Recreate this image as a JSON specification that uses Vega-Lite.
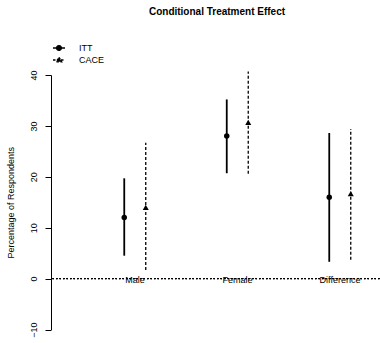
{
  "$schema": "https://vega.github.io/schema/vega-lite/v6.json",
  "autosize": {"type": "none"},
  "padding": {"left": 51, "top": 75, "right": 0, "bottom": 13.5},
  "width": 332,
  "height": 254.5,
  "background": "white",
  "config": {
    "view": {"stroke": null},
    "font": "Liberation Sans",
    "axis": {"grid": false}
  },
  "title": {
    "text": "Conditional Treatment Effect",
    "fontSize": 10,
    "fontWeight": "bold",
    "font": "Liberation Sans",
    "color": "black",
    "frame": "group",
    "anchor": "middle",
    "offset": 24
  },
  "data": {
    "values": [
      {"group": "Male", "type": "ITT", "est": 12.0, "lo": 4.5, "hi": 19.7},
      {"group": "Male", "type": "CACE", "est": 14.0, "lo": 1.7, "hi": 26.7},
      {"group": "Female", "type": "ITT", "est": 28.0, "lo": 20.7, "hi": 35.2},
      {"group": "Female", "type": "CACE", "est": 30.7, "lo": 20.6, "hi": 40.7},
      {"group": "Difference", "type": "ITT", "est": 16.0, "lo": 3.3, "hi": 28.6},
      {"group": "Difference", "type": "CACE", "est": 16.7, "lo": 3.7, "hi": 29.4}
    ]
  },
  "encoding": {
    "x": {
      "field": "group",
      "type": "nominal",
      "axis": null,
      "scale": {"domain": ["Male", "Female", "Difference"], "paddingInner": 0.161, "paddingOuter": 0.2, "align": 1}
    }
  },
  "layer": [
    {
      "mark": {"type": "rule", "color": "black", "strokeWidth": 1, "strokeDash": [1.5, 2]},
      "encoding": {
        "x": null,
        "y": {
          "datum": 0,
          "type": "quantitative",
          "scale": {"domain": [-10, 40], "nice": false, "zero": false},
          "axis": {
            "values": [-10, 0, 10, 20, 30, 40],
            "title": "Percentage of Respondents",
            "titleFont": "Liberation Sans",
            "titleFontSize": 9,
            "titleFontWeight": "normal",
            "titleColor": "black",
            "titlePadding": 14,
            "labelFont": "Liberation Sans",
            "labelFontSize": 9,
            "labelColor": "black",
            "labelAngle": 270,
            "labelAlign": "center",
            "labelBaseline": "bottom",
            "labelPadding": 7,
            "labelFlush": false,
            "labelOverlap": false,
            "labelBound": false,
            "tickSize": 6,
            "tickColor": "black",
            "domainColor": "black",
            "tickWidth": 1,
            "domainWidth": 1
          }
        }
      }
    },
    {
      "transform": [{"filter": "datum.type == 'ITT'"}],
      "mark": {"type": "rule", "color": "black", "strokeWidth": 1.8},
      "encoding": {
        "xOffset": {"field": "type", "type": "nominal", "scale": {"domain": ["ITT", "CACE"], "paddingInner": 0, "paddingOuter": 1.1}},
        "y": {"field": "lo", "type": "quantitative"},
        "y2": {"field": "hi"}
      }
    },
    {
      "transform": [{"filter": "datum.type == 'CACE'"}],
      "mark": {"type": "rule", "color": "black", "strokeWidth": 1.3, "strokeDash": [3, 2]},
      "encoding": {
        "xOffset": {"field": "type", "type": "nominal"},
        "y": {"field": "lo", "type": "quantitative"},
        "y2": {"field": "hi"}
      }
    },
    {
      "transform": [{"filter": "datum.type == 'ITT'"}],
      "mark": {"type": "point", "shape": "circle", "filled": true, "color": "black", "opacity": 1, "size": 30},
      "encoding": {
        "xOffset": {"field": "type", "type": "nominal"},
        "y": {"field": "est", "type": "quantitative"}
      }
    },
    {
      "transform": [{"filter": "datum.type == 'CACE'"}],
      "mark": {"type": "point", "shape": "triangle-up", "filled": true, "color": "black", "opacity": 1, "size": 36},
      "encoding": {
        "xOffset": {"field": "type", "type": "nominal"},
        "y": {"field": "est", "type": "quantitative"}
      }
    },
    {
      "transform": [{"filter": "datum.type == 'ITT'"}],
      "mark": {"type": "text", "fontSize": 9, "font": "Liberation Sans", "color": "black", "baseline": "middle", "align": "center", "dy": 1},
      "encoding": {
        "text": {"field": "group"},
        "y": {"datum": 0, "type": "quantitative"}
      }
    },
    {
      "transform": [{"filter": "datum.type == 'legend'"}],
      "mark": {"type": "point", "filled": true, "fill": "black", "stroke": "black", "strokeWidth": 1.3, "opacity": 1},
      "encoding": {
        "xOffset": {"field": "type", "type": "nominal"},
        "y": {"field": "est", "type": "quantitative"},
        "shape": {
          "field": "type",
          "type": "nominal",
          "scale": {
            "domain": ["ITT", "CACE"],
            "range": [
              "M-1,0L1,0M0.4,0A0.4,0.4,0,1,1,-0.4,0A0.4,0.4,0,1,1,0.4,0Z",
              "M-1,0L1,0M0,-0.45L0.45,0.3L-0.45,0.3Z"
            ]
          },
          "legend": {
            "title": null,
            "orient": "none",
            "legendX": 1,
            "legendY": -34,
            "symbolSize": 144,
            "labelFontSize": 9,
            "labelFont": "Liberation Sans",
            "labelColor": "black",
            "labelOffset": 13,
            "rowPadding": 0,
            "symbolStrokeWidth": 1.3
          }
        },
        "strokeDash": {
          "field": "type",
          "type": "nominal",
          "scale": {"domain": ["ITT", "CACE"], "range": [[1, 0], [2.5, 1.5]]}
        }
      }
    }
  ]
}
